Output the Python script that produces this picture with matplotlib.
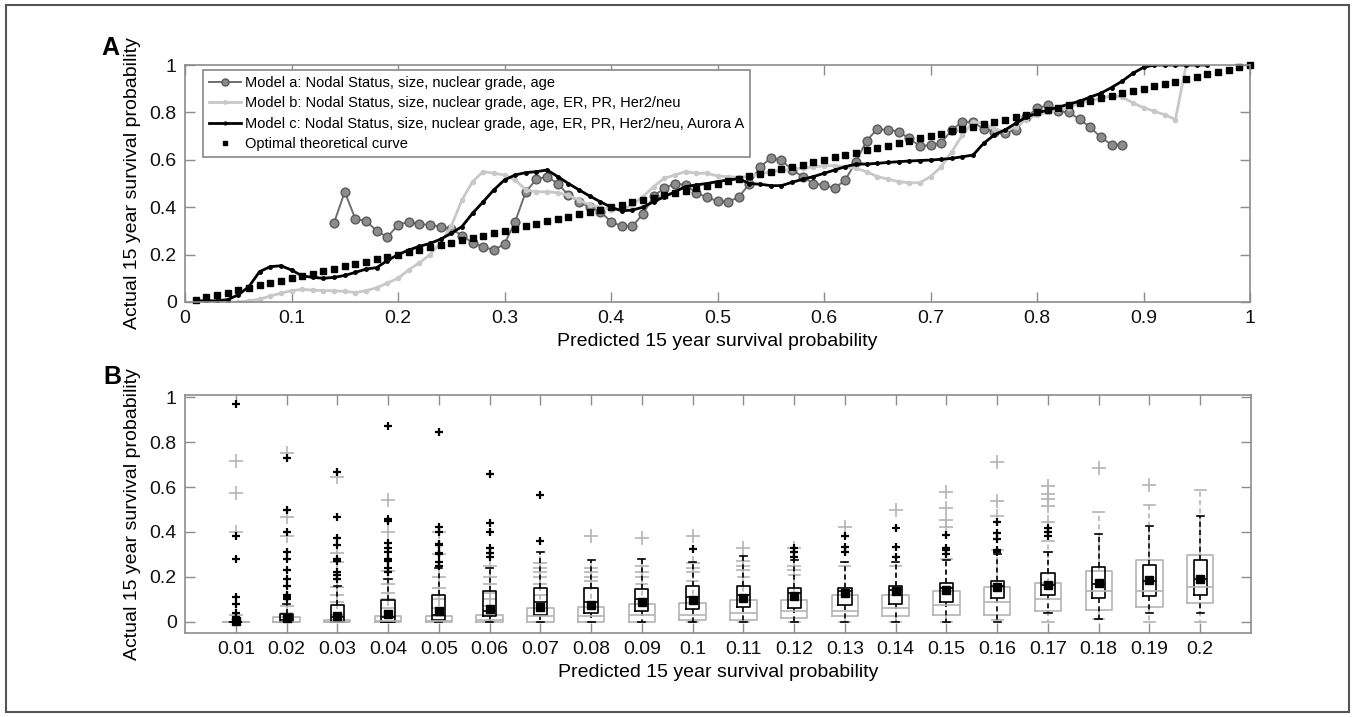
import numpy as np
import matplotlib.pyplot as plt
from matplotlib.patches import Rectangle

plt.rcParams['font.family'] = ['Liberation Sans', 'DejaVu Sans']

# ---------------- panel A data ----------------
pred_prob = [0.01, 0.02, 0.03, 0.04, 0.05, 0.06, 0.07, 0.08, 0.09, 0.10,
             0.11, 0.12, 0.13, 0.14, 0.15, 0.16, 0.17, 0.18, 0.19, 0.20,
             0.21, 0.22, 0.23, 0.24, 0.25, 0.26, 0.27, 0.28, 0.29, 0.30,
             0.31, 0.32, 0.33, 0.34, 0.35, 0.36, 0.37, 0.38, 0.39, 0.40,
             0.41, 0.42, 0.43, 0.44, 0.45, 0.46, 0.47, 0.48, 0.49, 0.50,
             0.51, 0.52, 0.53, 0.54, 0.55, 0.56, 0.57, 0.58, 0.59, 0.60,
             0.61, 0.62, 0.63, 0.64, 0.65, 0.66, 0.67, 0.68, 0.69, 0.70,
             0.71, 0.72, 0.73, 0.74, 0.75, 0.76, 0.77, 0.78, 0.79, 0.80,
             0.81, 0.82, 0.83, 0.84, 0.85, 0.86, 0.87, 0.88, 0.89, 0.90,
             0.91, 0.92, 0.93, 0.94, 0.95, 0.96, 0.97, 0.98, 0.99, 1.00]

# optimal theoretical curve: actual == predicted
optimal = list(pred_prob)

# model a starts at 0.14
model_a_start = 13
model_a = [0.335, 0.465, 0.35, 0.342, 0.30, 0.274, 0.325, 0.339, 0.329, 0.325,
           0.318, 0.31, 0.28, 0.25, 0.233, 0.219, 0.245, 0.339, 0.465, 0.518,
           0.529, 0.50, 0.451, 0.423, 0.40, 0.381, 0.339, 0.32, 0.32, 0.371,
           0.447, 0.48, 0.50, 0.494, 0.461, 0.442, 0.426, 0.423, 0.442, 0.50,
           0.571, 0.606, 0.599, 0.557, 0.529, 0.50, 0.494, 0.48, 0.515, 0.592,
           0.681, 0.729, 0.726, 0.719, 0.69, 0.658, 0.662, 0.672, 0.726, 0.761,
           0.76, 0.729, 0.719, 0.714, 0.726, 0.78, 0.817, 0.83, 0.805, 0.80,
           0.771, 0.737, 0.695, 0.664, 0.664]

model_b = [0.0, 0.0, 0.0, 0.0, 0.0, 0.005, 0.012, 0.025, 0.037, 0.048,
           0.053, 0.05, 0.048, 0.047, 0.045, 0.04, 0.048, 0.06, 0.08, 0.10,
           0.135, 0.165, 0.20, 0.25, 0.32, 0.43, 0.508, 0.55, 0.543, 0.536,
           0.515, 0.473, 0.465, 0.465, 0.461, 0.45, 0.43, 0.41, 0.40, 0.39,
           0.39, 0.41, 0.444, 0.487, 0.522, 0.536, 0.55, 0.543, 0.543, 0.532,
           0.529, 0.526, 0.53, 0.54, 0.55, 0.555, 0.56, 0.565, 0.57, 0.575,
           0.575, 0.57, 0.564, 0.55, 0.529, 0.518, 0.508, 0.503, 0.503, 0.529,
           0.571, 0.634, 0.705, 0.761, 0.754, 0.73, 0.72, 0.74, 0.77, 0.79,
           0.80, 0.81, 0.82, 0.84, 0.85, 0.86, 0.87, 0.865, 0.84, 0.82,
           0.805, 0.79, 0.77, 1.0]

model_c = [0.005, 0.005, 0.005, 0.01, 0.03, 0.065, 0.128, 0.149, 0.153, 0.135,
           0.11, 0.104, 0.10, 0.104, 0.112, 0.125, 0.139, 0.145, 0.175, 0.20,
           0.219, 0.235, 0.247, 0.265, 0.29, 0.318, 0.374, 0.423, 0.473, 0.515,
           0.536, 0.546, 0.55, 0.557, 0.529, 0.50, 0.473, 0.447, 0.423, 0.40,
           0.385, 0.388, 0.40, 0.423, 0.444, 0.465, 0.487, 0.494, 0.50, 0.508,
           0.515, 0.52, 0.50, 0.497, 0.491, 0.491, 0.505, 0.518, 0.529, 0.543,
           0.557, 0.571, 0.582, 0.582, 0.585, 0.589, 0.592, 0.595, 0.597, 0.599,
           0.602, 0.606, 0.613, 0.62, 0.67, 0.705, 0.726, 0.754, 0.78, 0.797,
           0.81, 0.822, 0.835, 0.847, 0.865, 0.881, 0.905, 0.932, 0.965, 0.99,
           1.0, 1.0, 1.0, 1.0, 1.0, 1.0]

legend_labels = ["Model a: Nodal Status, size, nuclear grade, age",
                 "Model b: Nodal Status, size, nuclear grade, age, ER, PR, Her2/neu",
                 "Model c: Nodal Status, size, nuclear grade, age, ER, PR, Her2/neu, Aurora A",
                 "Optimal theoretical curve"]

# ---------------- panel B data (box summaries) ----------------
box_labels = ['0.01', '0.02', '0.03', '0.04', '0.05', '0.06', '0.07', '0.08', '0.09', '0.1',
              '0.11', '0.12', '0.13', '0.14', '0.15', '0.16', '0.17', '0.18', '0.19', '0.2']

gray_q1 = [0, 0, 0, 0, 0, 0, 0, 0, 0, 0.006, 0.006, 0.016, 0.024, 0.027, 0.031, 0.031, 0.048, 0.054, 0.066, 0.084]
gray_med = [0, 0, 0, 0.005, 0.005, 0.01, 0.025, 0.025, 0.031, 0.028, 0.041, 0.046, 0.046, 0.061, 0.076, 0.086, 0.102, 0.138, 0.138, 0.156]
gray_q3 = [0, 0.02, 0.01, 0.025, 0.025, 0.031, 0.061, 0.064, 0.08, 0.083, 0.095, 0.098, 0.12, 0.12, 0.139, 0.157, 0.174, 0.228, 0.273, 0.296]
gray_lo = [0, 0, 0, 0, 0, 0, 0, 0, 0, 0, 0, 0, 0, 0, 0, 0.009, 0, 0.013, 0, 0]
gray_hi = [0, 0.04, 0.03, 0.06, 0.06, 0.07, 0.12, 0.15, 0.17, 0.18, 0.2, 0.21, 0.25, 0.25, 0.28, 0.32, 0.36, 0.488, 0.519, 0.587]
gray_out = [[0.716, 0.575, 0.40, 0.03],
            [0.75, 0.468, 0.382, 0.07],
            [0.646, 0.305, 0.268, 0.157, 0.12, 0.09],
            [0.542, 0.40, 0.224, 0.17, 0.13, 0.10],
            [0.40, 0.30, 0.20, 0.15, 0.10],
            [0.25, 0.20, 0.17, 0.13, 0.10],
            [0.26, 0.24, 0.22, 0.20, 0.17],
            [0.382, 0.24, 0.22, 0.20, 0.18],
            [0.372, 0.25, 0.22, 0.20],
            [0.382, 0.26, 0.24, 0.22],
            [0.33, 0.27, 0.25, 0.23],
            [0.33, 0.25, 0.23],
            [0.424],
            [0.498],
            [0.579, 0.505, 0.453, 0.42],
            [0.713, 0.539, 0.471],
            [0.605, 0.57, 0.545, 0.515, 0.443],
            [0.686],
            [0.61],
            []]

black_q1 = [0, 0, 0, 0, 0.01, 0.024, 0.031, 0.038, 0.046, 0.056, 0.064, 0.061, 0.076, 0.08, 0.09, 0.105, 0.12, 0.108, 0.117, 0.12]
black_med = [0, 0.01, 0.02, 0.02, 0.03, 0.05, 0.09, 0.09, 0.10, 0.11, 0.12, 0.13, 0.135, 0.14, 0.15, 0.16, 0.165, 0.17, 0.18, 0.19]
black_q3 = [0, 0.035, 0.075, 0.095, 0.12, 0.135, 0.15, 0.15, 0.145, 0.161, 0.161, 0.15, 0.15, 0.16, 0.172, 0.182, 0.219, 0.242, 0.251, 0.273]
black_lo = [0, 0, 0, 0, 0, 0, 0, 0, 0, 0, 0, 0, 0, 0, 0, 0, 0.04, 0.013, 0.04, 0.04]
black_hi = [0, 0.08, 0.16, 0.19, 0.24, 0.24, 0.31, 0.276, 0.28, 0.268, 0.295, 0.276, 0.268, 0.268, 0.276, 0.30, 0.309, 0.393, 0.425, 0.47]
black_out = [[0.97, 0.382, 0.28, 0.11, 0.08, 0.04, 0.02, 0.01],
             [0.73, 0.50, 0.40, 0.31, 0.28, 0.23, 0.19, 0.16, 0.12, 0.11, 0.10],
             [0.668, 0.468, 0.372, 0.34, 0.28, 0.27, 0.22, 0.21, 0.19],
             [0.873, 0.456, 0.45, 0.35, 0.33, 0.31, 0.28, 0.27, 0.24, 0.22],
             [0.843, 0.424, 0.40, 0.345, 0.34, 0.305, 0.30, 0.268, 0.25],
             [0.656, 0.439, 0.40, 0.33, 0.305, 0.29],
             [0.564, 0.36],
             [],
             [],
             [0.324],
             [],
             [0.327, 0.31, 0.29],
             [0.382, 0.335, 0.31],
             [0.416, 0.335, 0.29],
             [0.387, 0.327, 0.32, 0.30],
             [0.446, 0.394, 0.37, 0.32, 0.31],
             [0.416, 0.40, 0.38],
             [],
             [],
             []]
black_mean = [0.005, 0.016, 0.027, 0.034, 0.049, 0.056, 0.065, 0.073, 0.087, 0.095,
              0.105, 0.113, 0.127, 0.135, 0.142, 0.154, 0.165, 0.174, 0.187, 0.192]


def make_stats(q1, med, q3, lo, hi, out, mean=None):
    stats = []
    for i in range(len(q1)):
        d = dict(q1=q1[i], med=med[i], q3=q3[i], whislo=lo[i], whishi=hi[i], fliers=out[i])
        if mean is not None:
            d['mean'] = mean[i]
        stats.append(d)
    return stats


spine_col = '#8c8c8c'


def style_axes(ax):
    for s in ax.spines.values():
        s.set_color(spine_col)
        s.set_linewidth(1.2)
    ax.tick_params(direction='in', length=7, width=1, color=spine_col,
                   top=True, right=True, labelsize=14, pad=6, labelcolor='#111111')


fig = plt.figure(figsize=(13.55, 7.17), dpi=100)

# outer frame
fig.add_artist(Rectangle((6 / 1355, 1 - 712 / 717), 1343 / 1355, 707 / 717,
                         transform=fig.transFigure, fill=False, ec='#555555', lw=1.5))

# ---------------- panel A ----------------
axA = fig.add_axes([185 / 1355, 1 - 302 / 717, 1065 / 1355, 237 / 717])
xa = pred_prob[model_a_start:model_a_start + len(model_a)]
axA.plot(xa, model_a, '-o', color='#6e6e6e', mfc='#8c8c8c', mec='#5a5a5a',
         ms=6.3, lw=1.4, label=legend_labels[0])
axA.plot(pred_prob[:len(model_b)], model_b, '-', marker='.', color='#c8c8c8',
         ms=6, lw=2, label=legend_labels[1])
axA.plot(pred_prob[:len(model_c)], model_c, '-', marker='.', color='black',
         ms=5, lw=2, label=legend_labels[2])
axA.plot(pred_prob, optimal, 's', color='black', ms=4.3, ls='none',
         clip_on=False, label=legend_labels[3])
axA.set_xlim(0, 1)
axA.set_ylim(0, 1)
xt = np.linspace(0, 1, 11)
axA.set_xticks(xt)
axA.set_xticklabels(['0', '0.1', '0.2', '0.3', '0.4', '0.5', '0.6', '0.7', '0.8', '0.9', '1'])
yt = np.linspace(0, 1, 6)
axA.set_yticks(yt)
axA.set_yticklabels(['0', '0.2', '0.4', '0.6', '0.8', '1'])
style_axes(axA)
axA.set_xlabel('Predicted 15 year survival probability', fontsize=14, labelpad=4)
axA.set_ylabel('Actual 15 year survival probability', fontsize=14, labelpad=6)
leg = axA.legend(loc='upper left', bbox_to_anchor=(0.017, 0.979), borderaxespad=0,
                 fontsize=10.5, frameon=True, fancybox=False, framealpha=1,
                 edgecolor='#888888', handlelength=2.2, labelspacing=0.45,
                 borderpad=0.4, handletextpad=0.3, numpoints=1, markerscale=0.8)
leg.get_frame().set_linewidth(1.2)
fig.text(110 / 1355, 1 - 48 / 717, 'A', fontsize=18, fontweight='bold', ha='center', va='center')

# ---------------- panel B ----------------
axB = fig.add_axes([185 / 1355, 1 - 633 / 717, 1066 / 1355, 238 / 717])
pos = list(range(1, len(box_labels) + 1))
gray = '#b4b4b4'
axB.bxp(make_stats(gray_q1, gray_med, gray_q3, gray_lo, gray_hi, gray_out),
        positions=pos, widths=0.52, capwidths=0.22, showfliers=True,
        boxprops=dict(color=gray, lw=1.2),
        medianprops=dict(color=gray, lw=1.2),
        whiskerprops=dict(color=gray, lw=1.2, ls=(0, (3, 2))),
        capprops=dict(color=gray, lw=1.2),
        flierprops=dict(marker='+', markeredgecolor=gray, ms=10, mew=1.2, ls='none'),
        manage_ticks=False)
axB.bxp(make_stats(black_q1, black_med, black_q3, black_lo, black_hi, black_out, black_mean),
        positions=pos, widths=0.26, capwidths=0.14, showfliers=True, showmeans=True,
        boxprops=dict(color='black', lw=1.2),
        medianprops=dict(color='black', lw=1.2),
        whiskerprops=dict(color='black', lw=1.2, ls=(0, (3, 2))),
        capprops=dict(color='black', lw=1.2),
        flierprops=dict(marker='+', markeredgecolor='black', ms=6, mew=1.6, ls='none'),
        meanprops=dict(marker='s', markerfacecolor='black', markeredgecolor='black', ms=6),
        manage_ticks=False)
axB.set_xlim(0, 21)
axB.set_ylim(-0.05, 1.01)
axB.set_xticks(pos)
axB.set_xticklabels(box_labels)
axB.set_yticks(yt)
axB.set_yticklabels(['0', '0.2', '0.4', '0.6', '0.8', '1'])
style_axes(axB)
axB.set_xlabel('Predicted 15 year survival probability', fontsize=14, labelpad=4)
axB.set_ylabel('Actual 15 year survival probability', fontsize=14, labelpad=6)
fig.text(112 / 1355, 1 - 377 / 717, 'B', fontsize=18, fontweight='bold', ha='center', va='center')

fig.savefig('out.png', dpi=100)
